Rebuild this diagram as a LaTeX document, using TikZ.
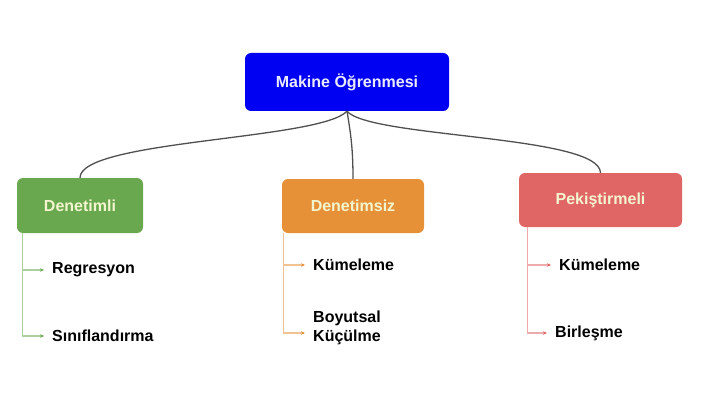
\documentclass[tikz,border=0pt]{standalone}
\usepackage{fontspec}
\setmainfont{Liberation Sans}
\usetikzlibrary{arrows.meta}
\definecolor{mlblue}{RGB}{0,0,242}
\definecolor{supgreen}{RGB}{106,168,79}
\definecolor{unsorange}{RGB}{230,145,56}
\definecolor{reinred}{RGB}{224,102,102}
\definecolor{boxtext}{RGB}{242,245,205}
\definecolor{linkgray}{RGB}{80,80,80}

\begin{document}
\begin{tikzpicture}[x=1pt, y=-1pt,
    box/.style={rectangle, rounded corners=6pt, align=center, text=boxtext, font=\bfseries\fontsize{16}{18}\selectfont},
    leaf/.style={anchor=west, inner sep=0pt, align=left, font=\bfseries\fontsize{16}{19}\selectfont},
    link/.style={draw=linkgray, line width=1.3pt},
    branch/.style={draw=#1!55, line width=1.2pt, -{Stealth[length=4pt, width=3.5pt, color=#1]}, shorten >=8pt}
]
\useasboundingbox (0,0) rectangle (709,401);

\node[box, fill=mlblue, text={rgb,255:red,235;green,235;blue,255}, minimum width=204pt, minimum height=58pt] (ml) at (347,82) {Makine Öğrenmesi};

\node[box, fill=supgreen, minimum width=126pt, minimum height=55pt] (sup) at (80,205.5) {Denetimli};
\node[box, fill=unsorange, minimum width=142pt, minimum height=54pt] (uns) at (353,206) {Denetimsiz};
\node[box, fill=reinred, minimum width=163pt, minimum height=54pt] (rein) at (600.5,200) {Pekiştirmeli};

\node[leaf] (reg) at (52,270) {Regresyon};
\node[leaf] (cls) at (52,336) {Sınıflandırma};
\node[leaf] (kum1) at (313,265) {Kümeleme};
\node[leaf] (boy) at (313,328) {Boyutsal\\Küçülme};
\node[leaf] (kum2) at (559,265) {Kümeleme};
\node[leaf] (bir) at (555,333) {Birleşme};

\draw[link] (ml.south) .. controls (320,140) and (80,140) .. (sup.north);
\draw[link] (ml.south) .. controls (351,135) and (353,150) .. (uns.north);
\draw[link] (ml.south) .. controls (370,138) and (600,135) .. (rein.north);

\draw[branch=supgreen] ([xshift=6pt]sup.south west) |- (reg.west);
\draw[branch=supgreen] ([xshift=6pt]sup.south west) |- (cls.west);
\draw[branch=unsorange] ([xshift=2pt]uns.south west) |- (kum1.west);
\draw[branch=unsorange] ([xshift=2pt]uns.south west) |- ([yshift=-5pt]boy.west);
\draw[branch=reinred] ([xshift=9pt]rein.south west) |- (kum2.west);
\draw[branch=reinred] ([xshift=9pt]rein.south west) |- (bir.west);
\end{tikzpicture}
\end{document}
